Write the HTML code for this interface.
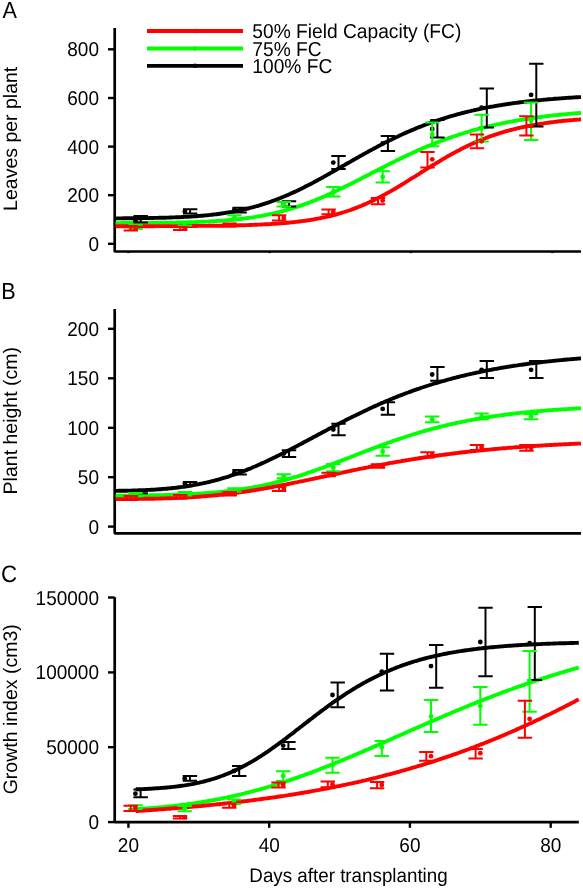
<!DOCTYPE html>
<html><head><meta charset="utf-8"><style>
html,body{margin:0;padding:0;background:#fff;}
svg{display:block;will-change:transform;}
text{font-family:"Liberation Sans",sans-serif;fill:#000;text-rendering:geometricPrecision;}
.t{font-size:19px;}
.l{font-size:19.5px;}
.x{font-size:18.8px;}
.g{font-size:19.2px;}
.p{font-size:22.3px;}
</style></head><body>
<svg width="583" height="888" viewBox="0 0 583 888">
<path d="M114.7,28 V251.5 H581" fill="none" stroke="#000" stroke-width="2.7" stroke-linejoin="bevel"/>
<line x1="108" y1="243.8" x2="114.7" y2="243.8" stroke="#000" stroke-width="2.4"/>
<text transform="translate(99,250.80) scale(1,1.06)" text-anchor="end" class="t">0</text>
<line x1="108" y1="195.2" x2="114.7" y2="195.2" stroke="#000" stroke-width="2.4"/>
<text transform="translate(99,202.20) scale(1,1.06)" text-anchor="end" class="t">200</text>
<line x1="108" y1="146.6" x2="114.7" y2="146.6" stroke="#000" stroke-width="2.4"/>
<text transform="translate(99,153.60) scale(1,1.06)" text-anchor="end" class="t">400</text>
<line x1="108" y1="98" x2="114.7" y2="98" stroke="#000" stroke-width="2.4"/>
<text transform="translate(99,105.00) scale(1,1.06)" text-anchor="end" class="t">600</text>
<line x1="108" y1="49.3" x2="114.7" y2="49.3" stroke="#000" stroke-width="2.4"/>
<text transform="translate(99,56.30) scale(1,1.06)" text-anchor="end" class="t">800</text>
<line x1="128.4" y1="251.5" x2="128.4" y2="253.1" stroke="#000" stroke-width="2.4"/>
<line x1="269.7" y1="251.5" x2="269.7" y2="253.1" stroke="#000" stroke-width="2.4"/>
<line x1="411.0" y1="251.5" x2="411.0" y2="253.1" stroke="#000" stroke-width="2.4"/>
<line x1="552.3" y1="251.5" x2="552.3" y2="253.1" stroke="#000" stroke-width="2.4"/>
<path d="M114.7,309 V533.3 H581" fill="none" stroke="#000" stroke-width="2.7" stroke-linejoin="bevel"/>
<line x1="108" y1="526.6" x2="114.7" y2="526.6" stroke="#000" stroke-width="2.4"/>
<text transform="translate(99,533.60) scale(1,1.06)" text-anchor="end" class="t">0</text>
<line x1="108" y1="477.2" x2="114.7" y2="477.2" stroke="#000" stroke-width="2.4"/>
<text transform="translate(99,484.20) scale(1,1.06)" text-anchor="end" class="t">50</text>
<line x1="108" y1="427.8" x2="114.7" y2="427.8" stroke="#000" stroke-width="2.4"/>
<text transform="translate(99,434.80) scale(1,1.06)" text-anchor="end" class="t">100</text>
<line x1="108" y1="378.3" x2="114.7" y2="378.3" stroke="#000" stroke-width="2.4"/>
<text transform="translate(99,385.30) scale(1,1.06)" text-anchor="end" class="t">150</text>
<line x1="108" y1="328.8" x2="114.7" y2="328.8" stroke="#000" stroke-width="2.4"/>
<text transform="translate(99,335.80) scale(1,1.06)" text-anchor="end" class="t">200</text>
<path d="M114.7,597.2 V822.1 H578.8" fill="none" stroke="#000" stroke-width="2.7" stroke-linejoin="bevel"/>
<line x1="108" y1="822.1" x2="114.7" y2="822.1" stroke="#000" stroke-width="2.4"/>
<text transform="translate(99,829.10) scale(1,1.06)" text-anchor="end" class="t">0</text>
<line x1="108" y1="747.2" x2="114.7" y2="747.2" stroke="#000" stroke-width="2.4"/>
<text transform="translate(99,754.20) scale(1,1.06)" text-anchor="end" class="t">50000</text>
<line x1="108" y1="672.4" x2="114.7" y2="672.4" stroke="#000" stroke-width="2.4"/>
<text transform="translate(99,679.40) scale(1,1.06)" text-anchor="end" class="t">100000</text>
<line x1="108" y1="597.5" x2="114.7" y2="597.5" stroke="#000" stroke-width="2.4"/>
<text transform="translate(99,604.50) scale(1,1.06)" text-anchor="end" class="t">150000</text>
<line x1="128.4" y1="822.1" x2="128.4" y2="827.8000000000001" stroke="#000" stroke-width="2.4"/>
<line x1="269.2" y1="822.1" x2="269.2" y2="827.8000000000001" stroke="#000" stroke-width="2.4"/>
<line x1="409.9" y1="822.1" x2="409.9" y2="827.8000000000001" stroke="#000" stroke-width="2.4"/>
<line x1="550.7" y1="822.1" x2="550.7" y2="827.8000000000001" stroke="#000" stroke-width="2.4"/>
<path d="M115.5,218.4 L117.1,218.4 L118.6,218.4 L120.2,218.4 L121.7,218.4 L123.3,218.3 L124.8,218.3 L126.4,218.3 L128.0,218.3 L129.5,218.3 L131.1,218.3 L132.6,218.3 L134.2,218.3 L135.7,218.2 L137.3,218.2 L138.9,218.2 L140.4,218.2 L142.0,218.2 L143.5,218.1 L145.1,218.1 L146.6,218.1 L148.2,218.1 L149.8,218.0 L151.3,218.0 L152.9,218.0 L154.4,217.9 L156.0,217.9 L157.5,217.9 L159.1,217.8 L160.6,217.8 L162.2,217.8 L163.8,217.7 L165.3,217.7 L166.9,217.6 L168.4,217.6 L170.0,217.5 L171.5,217.5 L173.1,217.4 L174.7,217.4 L176.2,217.3 L177.8,217.2 L179.3,217.2 L180.9,217.1 L182.4,217.0 L184.0,216.9 L185.6,216.9 L187.1,216.8 L188.7,216.7 L190.2,216.6 L191.8,216.5 L193.3,216.4 L194.9,216.3 L196.5,216.2 L198.0,216.0 L199.6,215.9 L201.1,215.8 L202.7,215.7 L204.2,215.5 L205.8,215.4 L207.4,215.2 L208.9,215.1 L210.5,214.9 L212.0,214.7 L213.6,214.5 L215.1,214.4 L216.7,214.2 L218.3,214.0 L219.8,213.8 L221.4,213.5 L222.9,213.3 L224.5,213.1 L226.0,212.8 L227.6,212.6 L229.2,212.3 L230.7,212.1 L232.3,211.8 L233.8,211.5 L235.4,211.2 L236.9,210.9 L238.5,210.6 L240.0,210.3 L241.6,210.0 L243.2,209.6 L244.7,209.3 L246.3,208.9 L247.8,208.5 L249.4,208.1 L250.9,207.7 L252.5,207.3 L254.1,206.9 L255.6,206.5 L257.2,206.0 L258.7,205.6 L260.3,205.1 L261.8,204.6 L263.4,204.1 L265.0,203.6 L266.5,203.1 L268.1,202.6 L269.6,202.1 L271.2,201.5 L272.7,200.9 L274.3,200.4 L275.9,199.8 L277.4,199.2 L279.0,198.6 L280.5,198.0 L282.1,197.3 L283.6,196.7 L285.2,196.0 L286.8,195.4 L288.3,194.7 L289.9,194.0 L291.4,193.3 L293.0,192.6 L294.5,191.9 L296.1,191.2 L297.7,190.4 L299.2,189.7 L300.8,188.9 L302.3,188.2 L303.9,187.4 L305.4,186.6 L307.0,185.8 L308.6,185.0 L310.1,184.2 L311.7,183.4 L313.2,182.6 L314.8,181.7 L316.3,180.9 L317.9,180.1 L319.4,179.2 L321.0,178.4 L322.6,177.5 L324.1,176.6 L325.7,175.8 L327.2,174.9 L328.8,174.0 L330.3,173.1 L331.9,172.3 L333.5,171.4 L335.0,170.5 L336.6,169.6 L338.1,168.7 L339.7,167.8 L341.2,166.9 L342.8,166.0 L344.4,165.1 L345.9,164.2 L347.5,163.3 L349.0,162.5 L350.6,161.6 L352.1,160.7 L353.7,159.8 L355.3,158.9 L356.8,158.0 L358.4,157.1 L359.9,156.2 L361.5,155.4 L363.0,154.5 L364.6,153.6 L366.2,152.8 L367.7,151.9 L369.3,151.1 L370.8,150.2 L372.4,149.4 L373.9,148.5 L375.5,147.7 L377.1,146.9 L378.6,146.0 L380.2,145.2 L381.7,144.4 L383.3,143.6 L384.8,142.8 L386.4,142.0 L387.9,141.2 L389.5,140.5 L391.1,139.7 L392.6,138.9 L394.2,138.2 L395.7,137.4 L397.3,136.7 L398.8,136.0 L400.4,135.2 L402.0,134.5 L403.5,133.8 L405.1,133.1 L406.6,132.4 L408.2,131.7 L409.7,131.1 L411.3,130.4 L412.9,129.7 L414.4,129.1 L416.0,128.4 L417.5,127.8 L419.1,127.2 L420.6,126.6 L422.2,126.0 L423.8,125.4 L425.3,124.8 L426.9,124.2 L428.4,123.6 L430.0,123.0 L431.5,122.5 L433.1,121.9 L434.7,121.4 L436.2,120.9 L437.8,120.3 L439.3,119.8 L440.9,119.3 L442.4,118.8 L444.0,118.3 L445.6,117.8 L447.1,117.3 L448.7,116.9 L450.2,116.4 L451.8,116.0 L453.3,115.5 L454.9,115.1 L456.5,114.6 L458.0,114.2 L459.6,113.8 L461.1,113.4 L462.7,113.0 L464.2,112.6 L465.8,112.2 L467.3,111.8 L468.9,111.4 L470.5,111.1 L472.0,110.7 L473.6,110.4 L475.1,110.0 L476.7,109.7 L478.2,109.3 L479.8,109.0 L481.4,108.7 L482.9,108.4 L484.5,108.0 L486.0,107.7 L487.6,107.4 L489.1,107.1 L490.7,106.8 L492.3,106.6 L493.8,106.3 L495.4,106.0 L496.9,105.7 L498.5,105.5 L500.0,105.2 L501.6,105.0 L503.2,104.7 L504.7,104.5 L506.3,104.2 L507.8,104.0 L509.4,103.8 L510.9,103.6 L512.5,103.3 L514.1,103.1 L515.6,102.9 L517.2,102.7 L518.7,102.5 L520.3,102.3 L521.8,102.1 L523.4,101.9 L525.0,101.7 L526.5,101.5 L528.1,101.4 L529.6,101.2 L531.2,101.0 L532.7,100.8 L534.3,100.7 L535.9,100.5 L537.4,100.4 L539.0,100.2 L540.5,100.1 L542.1,99.9 L543.6,99.8 L545.2,99.6 L546.7,99.5 L548.3,99.3 L549.9,99.2 L551.4,99.1 L553.0,99.0 L554.5,98.8 L556.1,98.7 L557.6,98.6 L559.2,98.5 L560.8,98.4 L562.3,98.2 L563.9,98.1 L565.4,98.0 L567.0,97.9 L568.5,97.8 L570.1,97.7 L571.7,97.6 L573.2,97.5 L574.8,97.4 L576.3,97.3 L577.9,97.2 L579.4,97.1 L581.0,97.1" fill="none" stroke="#000000" stroke-width="3.9"/>
<path d="M115.5,223.1 L117.1,223.1 L118.6,223.1 L120.2,223.1 L121.7,223.0 L123.3,223.0 L124.8,223.0 L126.4,223.0 L128.0,223.0 L129.5,223.0 L131.1,223.0 L132.6,223.0 L134.2,223.0 L135.7,223.0 L137.3,223.0 L138.9,223.0 L140.4,223.0 L142.0,223.0 L143.5,223.0 L145.1,222.9 L146.6,222.9 L148.2,222.9 L149.8,222.9 L151.3,222.9 L152.9,222.9 L154.4,222.9 L156.0,222.9 L157.5,222.8 L159.1,222.8 L160.6,222.8 L162.2,222.8 L163.8,222.8 L165.3,222.7 L166.9,222.7 L168.4,222.7 L170.0,222.7 L171.5,222.6 L173.1,222.6 L174.7,222.6 L176.2,222.6 L177.8,222.5 L179.3,222.5 L180.9,222.5 L182.4,222.4 L184.0,222.4 L185.6,222.4 L187.1,222.3 L188.7,222.3 L190.2,222.2 L191.8,222.2 L193.3,222.1 L194.9,222.1 L196.5,222.0 L198.0,222.0 L199.6,221.9 L201.1,221.8 L202.7,221.8 L204.2,221.7 L205.8,221.6 L207.4,221.6 L208.9,221.5 L210.5,221.4 L212.0,221.3 L213.6,221.2 L215.1,221.1 L216.7,221.0 L218.3,220.9 L219.8,220.8 L221.4,220.7 L222.9,220.6 L224.5,220.5 L226.0,220.4 L227.6,220.2 L229.2,220.1 L230.7,220.0 L232.3,219.8 L233.8,219.7 L235.4,219.5 L236.9,219.4 L238.5,219.2 L240.0,219.0 L241.6,218.8 L243.2,218.6 L244.7,218.4 L246.3,218.2 L247.8,218.0 L249.4,217.8 L250.9,217.6 L252.5,217.4 L254.1,217.1 L255.6,216.9 L257.2,216.6 L258.7,216.3 L260.3,216.1 L261.8,215.8 L263.4,215.5 L265.0,215.2 L266.5,214.9 L268.1,214.6 L269.6,214.2 L271.2,213.9 L272.7,213.6 L274.3,213.2 L275.9,212.8 L277.4,212.5 L279.0,212.1 L280.5,211.7 L282.1,211.3 L283.6,210.9 L285.2,210.4 L286.8,210.0 L288.3,209.5 L289.9,209.1 L291.4,208.6 L293.0,208.1 L294.5,207.7 L296.1,207.2 L297.7,206.6 L299.2,206.1 L300.8,205.6 L302.3,205.1 L303.9,204.5 L305.4,203.9 L307.0,203.4 L308.6,202.8 L310.1,202.2 L311.7,201.6 L313.2,201.0 L314.8,200.4 L316.3,199.7 L317.9,199.1 L319.4,198.5 L321.0,197.8 L322.6,197.1 L324.1,196.5 L325.7,195.8 L327.2,195.1 L328.8,194.4 L330.3,193.7 L331.9,193.0 L333.5,192.3 L335.0,191.5 L336.6,190.8 L338.1,190.1 L339.7,189.3 L341.2,188.6 L342.8,187.8 L344.4,187.1 L345.9,186.3 L347.5,185.5 L349.0,184.7 L350.6,184.0 L352.1,183.2 L353.7,182.4 L355.3,181.6 L356.8,180.8 L358.4,180.0 L359.9,179.2 L361.5,178.4 L363.0,177.6 L364.6,176.8 L366.2,176.0 L367.7,175.2 L369.3,174.4 L370.8,173.6 L372.4,172.8 L373.9,172.0 L375.5,171.2 L377.1,170.4 L378.6,169.6 L380.2,168.8 L381.7,168.0 L383.3,167.2 L384.8,166.4 L386.4,165.6 L387.9,164.8 L389.5,164.0 L391.1,163.2 L392.6,162.5 L394.2,161.7 L395.7,160.9 L397.3,160.1 L398.8,159.4 L400.4,158.6 L402.0,157.9 L403.5,157.1 L405.1,156.4 L406.6,155.6 L408.2,154.9 L409.7,154.2 L411.3,153.5 L412.9,152.7 L414.4,152.0 L416.0,151.3 L417.5,150.6 L419.1,149.9 L420.6,149.3 L422.2,148.6 L423.8,147.9 L425.3,147.2 L426.9,146.6 L428.4,145.9 L430.0,145.3 L431.5,144.7 L433.1,144.0 L434.7,143.4 L436.2,142.8 L437.8,142.2 L439.3,141.6 L440.9,141.0 L442.4,140.4 L444.0,139.8 L445.6,139.3 L447.1,138.7 L448.7,138.1 L450.2,137.6 L451.8,137.0 L453.3,136.5 L454.9,136.0 L456.5,135.5 L458.0,135.0 L459.6,134.4 L461.1,134.0 L462.7,133.5 L464.2,133.0 L465.8,132.5 L467.3,132.0 L468.9,131.6 L470.5,131.1 L472.0,130.7 L473.6,130.2 L475.1,129.8 L476.7,129.4 L478.2,129.0 L479.8,128.5 L481.4,128.1 L482.9,127.7 L484.5,127.3 L486.0,127.0 L487.6,126.6 L489.1,126.2 L490.7,125.8 L492.3,125.5 L493.8,125.1 L495.4,124.8 L496.9,124.4 L498.5,124.1 L500.0,123.8 L501.6,123.4 L503.2,123.1 L504.7,122.8 L506.3,122.5 L507.8,122.2 L509.4,121.9 L510.9,121.6 L512.5,121.3 L514.1,121.0 L515.6,120.7 L517.2,120.5 L518.7,120.2 L520.3,119.9 L521.8,119.7 L523.4,119.4 L525.0,119.2 L526.5,119.0 L528.1,118.7 L529.6,118.5 L531.2,118.3 L532.7,118.0 L534.3,117.8 L535.9,117.6 L537.4,117.4 L539.0,117.2 L540.5,117.0 L542.1,116.8 L543.6,116.6 L545.2,116.4 L546.7,116.2 L548.3,116.0 L549.9,115.8 L551.4,115.6 L553.0,115.5 L554.5,115.3 L556.1,115.1 L557.6,115.0 L559.2,114.8 L560.8,114.7 L562.3,114.5 L563.9,114.4 L565.4,114.2 L567.0,114.1 L568.5,113.9 L570.1,113.8 L571.7,113.6 L573.2,113.5 L574.8,113.4 L576.3,113.2 L577.9,113.1 L579.4,113.0 L581.0,112.9" fill="none" stroke="#00ff00" stroke-width="3.9"/>
<path d="M115.5,226.2 L117.1,226.2 L118.6,226.2 L120.2,226.2 L121.7,226.2 L123.3,226.2 L124.8,226.2 L126.4,226.2 L128.0,226.2 L129.5,226.2 L131.1,226.2 L132.6,226.2 L134.2,226.2 L135.7,226.2 L137.3,226.2 L138.9,226.2 L140.4,226.2 L142.0,226.2 L143.5,226.2 L145.1,226.2 L146.6,226.2 L148.2,226.2 L149.8,226.2 L151.3,226.2 L152.9,226.2 L154.4,226.2 L156.0,226.1 L157.5,226.1 L159.1,226.1 L160.6,226.1 L162.2,226.1 L163.8,226.1 L165.3,226.1 L166.9,226.1 L168.4,226.1 L170.0,226.1 L171.5,226.1 L173.1,226.1 L174.7,226.1 L176.2,226.1 L177.8,226.1 L179.3,226.1 L180.9,226.1 L182.4,226.1 L184.0,226.0 L185.6,226.0 L187.1,226.0 L188.7,226.0 L190.2,226.0 L191.8,226.0 L193.3,226.0 L194.9,226.0 L196.5,226.0 L198.0,225.9 L199.6,225.9 L201.1,225.9 L202.7,225.9 L204.2,225.9 L205.8,225.9 L207.4,225.9 L208.9,225.8 L210.5,225.8 L212.0,225.8 L213.6,225.8 L215.1,225.8 L216.7,225.7 L218.3,225.7 L219.8,225.7 L221.4,225.7 L222.9,225.7 L224.5,225.6 L226.0,225.6 L227.6,225.6 L229.2,225.5 L230.7,225.5 L232.3,225.5 L233.8,225.4 L235.4,225.4 L236.9,225.4 L238.5,225.3 L240.0,225.3 L241.6,225.2 L243.2,225.2 L244.7,225.2 L246.3,225.1 L247.8,225.1 L249.4,225.0 L250.9,225.0 L252.5,224.9 L254.1,224.8 L255.6,224.8 L257.2,224.7 L258.7,224.6 L260.3,224.6 L261.8,224.5 L263.4,224.4 L265.0,224.3 L266.5,224.3 L268.1,224.2 L269.6,224.1 L271.2,224.0 L272.7,223.9 L274.3,223.8 L275.9,223.7 L277.4,223.6 L279.0,223.5 L280.5,223.4 L282.1,223.2 L283.6,223.1 L285.2,223.0 L286.8,222.8 L288.3,222.7 L289.9,222.5 L291.4,222.4 L293.0,222.2 L294.5,222.1 L296.1,221.9 L297.7,221.7 L299.2,221.5 L300.8,221.3 L302.3,221.1 L303.9,220.9 L305.4,220.7 L307.0,220.5 L308.6,220.2 L310.1,220.0 L311.7,219.7 L313.2,219.5 L314.8,219.2 L316.3,218.9 L317.9,218.6 L319.4,218.3 L321.0,218.0 L322.6,217.7 L324.1,217.4 L325.7,217.1 L327.2,216.7 L328.8,216.3 L330.3,216.0 L331.9,215.6 L333.5,215.2 L335.0,214.8 L336.6,214.3 L338.1,213.9 L339.7,213.5 L341.2,213.0 L342.8,212.5 L344.4,212.0 L345.9,211.5 L347.5,211.0 L349.0,210.5 L350.6,210.0 L352.1,209.4 L353.7,208.8 L355.3,208.2 L356.8,207.6 L358.4,207.0 L359.9,206.4 L361.5,205.8 L363.0,205.1 L364.6,204.4 L366.2,203.7 L367.7,203.0 L369.3,202.3 L370.8,201.6 L372.4,200.9 L373.9,200.1 L375.5,199.3 L377.1,198.6 L378.6,197.8 L380.2,197.0 L381.7,196.1 L383.3,195.3 L384.8,194.5 L386.4,193.6 L387.9,192.7 L389.5,191.9 L391.1,191.0 L392.6,190.1 L394.2,189.2 L395.7,188.3 L397.3,187.3 L398.8,186.4 L400.4,185.5 L402.0,184.5 L403.5,183.6 L405.1,182.6 L406.6,181.6 L408.2,180.7 L409.7,179.7 L411.3,178.7 L412.9,177.7 L414.4,176.8 L416.0,175.8 L417.5,174.8 L419.1,173.8 L420.6,172.8 L422.2,171.8 L423.8,170.9 L425.3,169.9 L426.9,168.9 L428.4,167.9 L430.0,167.0 L431.5,166.0 L433.1,165.0 L434.7,164.1 L436.2,163.1 L437.8,162.2 L439.3,161.3 L440.9,160.3 L442.4,159.4 L444.0,158.5 L445.6,157.6 L447.1,156.7 L448.7,155.8 L450.2,154.9 L451.8,154.1 L453.3,153.2 L454.9,152.4 L456.5,151.5 L458.0,150.7 L459.6,149.9 L461.1,149.1 L462.7,148.3 L464.2,147.5 L465.8,146.8 L467.3,146.0 L468.9,145.3 L470.5,144.6 L472.0,143.8 L473.6,143.1 L475.1,142.4 L476.7,141.8 L478.2,141.1 L479.8,140.5 L481.4,139.8 L482.9,139.2 L484.5,138.6 L486.0,138.0 L487.6,137.4 L489.1,136.8 L490.7,136.2 L492.3,135.7 L493.8,135.1 L495.4,134.6 L496.9,134.1 L498.5,133.6 L500.0,133.1 L501.6,132.6 L503.2,132.2 L504.7,131.7 L506.3,131.2 L507.8,130.8 L509.4,130.4 L510.9,130.0 L512.5,129.6 L514.1,129.2 L515.6,128.8 L517.2,128.4 L518.7,128.0 L520.3,127.7 L521.8,127.3 L523.4,127.0 L525.0,126.7 L526.5,126.3 L528.1,126.0 L529.6,125.7 L531.2,125.4 L532.7,125.2 L534.3,124.9 L535.9,124.6 L537.4,124.3 L539.0,124.1 L540.5,123.8 L542.1,123.6 L543.6,123.4 L545.2,123.1 L546.7,122.9 L548.3,122.7 L549.9,122.5 L551.4,122.3 L553.0,122.1 L554.5,121.9 L556.1,121.7 L557.6,121.5 L559.2,121.3 L560.8,121.2 L562.3,121.0 L563.9,120.8 L565.4,120.7 L567.0,120.5 L568.5,120.4 L570.1,120.2 L571.7,120.1 L573.2,120.0 L574.8,119.8 L576.3,119.7 L577.9,119.6 L579.4,119.5 L581.0,119.3" fill="none" stroke="#ff0000" stroke-width="3.9"/>
<path d="M133.5,216 H147.9 M140.7,216 V222.5 M133.5,222.5 H147.9" stroke="#000000" stroke-width="2" fill="none"/>
<circle cx="135.5" cy="221" r="2.4" fill="#000000"/>
<path d="M182.9,209.2 H197.3 M190.1,209.2 V213.4 M182.9,213.4 H197.3" stroke="#000000" stroke-width="2" fill="none"/>
<circle cx="184.9" cy="211.5" r="2.4" fill="#000000"/>
<path d="M232.4,207.8 H246.8 M239.6,207.8 V212.5 M232.4,212.5 H246.8" stroke="#000000" stroke-width="2" fill="none"/>
<circle cx="234.4" cy="210" r="2.4" fill="#000000"/>
<path d="M281.8,201.3 H296.2 M289.0,201.3 V206.5 M281.8,206.5 H296.2" stroke="#000000" stroke-width="2" fill="none"/>
<circle cx="283.8" cy="204" r="2.4" fill="#000000"/>
<path d="M331.3,156 H345.7 M338.5,156 V169 M331.3,169 H345.7" stroke="#000000" stroke-width="2" fill="none"/>
<circle cx="333.3" cy="162.6" r="2.4" fill="#000000"/>
<path d="M380.7,136 H395.1 M387.9,136 V151 M380.7,151 H395.1" stroke="#000000" stroke-width="2" fill="none"/>
<circle cx="382.7" cy="143.5" r="2.4" fill="#000000"/>
<path d="M430.2,120.1 H444.6 M437.4,120.1 V137.6 M430.2,137.6 H444.6" stroke="#000000" stroke-width="2" fill="none"/>
<circle cx="432.2" cy="129" r="2.4" fill="#000000"/>
<path d="M479.6,88.5 H494.0 M486.8,88.5 V127.6 M479.6,127.6 H494.0" stroke="#000000" stroke-width="2" fill="none"/>
<circle cx="481.6" cy="107.6" r="2.4" fill="#000000"/>
<path d="M529.1,63.8 H543.5 M536.3,63.8 V126.6 M529.1,126.6 H543.5" stroke="#000000" stroke-width="2" fill="none"/>
<circle cx="531.1" cy="94.9" r="2.4" fill="#000000"/>
<path d="M128.3,224.8 H142.7 M135.5,224.8 V229 M128.3,229 H142.7" stroke="#00ff00" stroke-width="2" fill="none"/>
<circle cx="135.5" cy="227" r="2.4" fill="#00ff00"/>
<path d="M177.7,222 H192.1 M184.9,222 V225.5 M177.7,225.5 H192.1" stroke="#00ff00" stroke-width="2" fill="none"/>
<circle cx="184.9" cy="223.8" r="2.4" fill="#00ff00"/>
<path d="M227.2,215.2 H241.6 M234.4,215.2 V219.5 M227.2,219.5 H241.6" stroke="#00ff00" stroke-width="2" fill="none"/>
<circle cx="234.4" cy="217.4" r="2.4" fill="#00ff00"/>
<path d="M276.6,201.9 H291.0 M283.8,201.9 V206.5 M276.6,206.5 H291.0" stroke="#00ff00" stroke-width="2" fill="none"/>
<circle cx="283.8" cy="204.2" r="2.4" fill="#00ff00"/>
<path d="M326.1,186.9 H340.5 M333.3,186.9 V196.6 M326.1,196.6 H340.5" stroke="#00ff00" stroke-width="2" fill="none"/>
<circle cx="333.3" cy="191.7" r="2.4" fill="#00ff00"/>
<path d="M375.5,171.3 H389.9 M382.7,171.3 V182.4 M375.5,182.4 H389.9" stroke="#00ff00" stroke-width="2" fill="none"/>
<circle cx="382.7" cy="177" r="2.4" fill="#00ff00"/>
<path d="M425.0,122.6 H439.4 M432.2,122.6 V146.3 M425.0,146.3 H439.4" stroke="#00ff00" stroke-width="2" fill="none"/>
<circle cx="432.2" cy="134.5" r="2.4" fill="#00ff00"/>
<path d="M474.4,114.8 H488.8 M481.6,114.8 V141.6 M474.4,141.6 H488.8" stroke="#00ff00" stroke-width="2" fill="none"/>
<circle cx="481.6" cy="128.2" r="2.4" fill="#00ff00"/>
<path d="M523.9,102.5 H538.3 M531.1,102.5 V140 M523.9,140 H538.3" stroke="#00ff00" stroke-width="2" fill="none"/>
<circle cx="531.1" cy="121" r="2.4" fill="#00ff00"/>
<path d="M123.6,226 H138.0 M130.8,226 V230.5 M123.6,230.5 H138.0" stroke="#ff0000" stroke-width="2" fill="none"/>
<circle cx="135.5" cy="228.3" r="2.4" fill="#ff0000"/>
<path d="M173.0,227 H187.4 M180.2,227 V230 M173.0,230 H187.4" stroke="#ff0000" stroke-width="2" fill="none"/>
<circle cx="184.9" cy="228.5" r="2.4" fill="#ff0000"/>
<path d="M222.5,223.5 H236.9 M229.7,223.5 V226.5 M222.5,226.5 H236.9" stroke="#ff0000" stroke-width="2" fill="none"/>
<circle cx="234.4" cy="225" r="2.4" fill="#ff0000"/>
<path d="M271.9,215.3 H286.3 M279.1,215.3 V220.5 M271.9,220.5 H286.3" stroke="#ff0000" stroke-width="2" fill="none"/>
<circle cx="283.8" cy="218" r="2.4" fill="#ff0000"/>
<path d="M321.4,209.5 H335.8 M328.6,209.5 V214.3 M321.4,214.3 H335.8" stroke="#ff0000" stroke-width="2" fill="none"/>
<circle cx="333.3" cy="212" r="2.4" fill="#ff0000"/>
<path d="M370.8,198.1 H385.2 M378.0,198.1 V204.3 M370.8,204.3 H385.2" stroke="#ff0000" stroke-width="2" fill="none"/>
<circle cx="382.7" cy="200.6" r="2.4" fill="#ff0000"/>
<path d="M420.3,152 H434.7 M427.5,152 V167.5 M420.3,167.5 H434.7" stroke="#ff0000" stroke-width="2" fill="none"/>
<circle cx="432.2" cy="159.3" r="2.4" fill="#ff0000"/>
<path d="M469.8,134.4 H484.1 M476.9,134.4 V148.2 M469.8,148.2 H484.1" stroke="#ff0000" stroke-width="2" fill="none"/>
<circle cx="481.6" cy="141.3" r="2.4" fill="#ff0000"/>
<path d="M519.2,116.3 H533.6 M526.4,116.3 V135.4 M519.2,135.4 H533.6" stroke="#ff0000" stroke-width="2" fill="none"/>
<circle cx="531.1" cy="125.9" r="2.4" fill="#ff0000"/>
<path d="M115.5,490.9 L117.1,490.9 L118.6,490.8 L120.2,490.8 L121.7,490.8 L123.3,490.7 L124.8,490.7 L126.4,490.7 L128.0,490.6 L129.5,490.6 L131.1,490.6 L132.6,490.5 L134.2,490.5 L135.7,490.4 L137.3,490.4 L138.9,490.3 L140.4,490.3 L142.0,490.2 L143.5,490.2 L145.1,490.1 L146.6,490.0 L148.2,489.9 L149.8,489.9 L151.3,489.8 L152.9,489.7 L154.4,489.6 L156.0,489.5 L157.5,489.4 L159.1,489.3 L160.6,489.2 L162.2,489.0 L163.8,488.9 L165.3,488.8 L166.9,488.7 L168.4,488.5 L170.0,488.4 L171.5,488.2 L173.1,488.0 L174.7,487.9 L176.2,487.7 L177.8,487.5 L179.3,487.3 L180.9,487.1 L182.4,486.9 L184.0,486.7 L185.6,486.5 L187.1,486.2 L188.7,486.0 L190.2,485.7 L191.8,485.5 L193.3,485.2 L194.9,484.9 L196.5,484.6 L198.0,484.3 L199.6,484.0 L201.1,483.7 L202.7,483.4 L204.2,483.0 L205.8,482.7 L207.4,482.3 L208.9,482.0 L210.5,481.6 L212.0,481.2 L213.6,480.8 L215.1,480.4 L216.7,480.0 L218.3,479.6 L219.8,479.1 L221.4,478.7 L222.9,478.2 L224.5,477.7 L226.0,477.3 L227.6,476.8 L229.2,476.3 L230.7,475.7 L232.3,475.2 L233.8,474.7 L235.4,474.1 L236.9,473.6 L238.5,473.0 L240.0,472.4 L241.6,471.9 L243.2,471.3 L244.7,470.7 L246.3,470.1 L247.8,469.4 L249.4,468.8 L250.9,468.2 L252.5,467.5 L254.1,466.8 L255.6,466.2 L257.2,465.5 L258.7,464.8 L260.3,464.1 L261.8,463.4 L263.4,462.7 L265.0,462.0 L266.5,461.3 L268.1,460.5 L269.6,459.8 L271.2,459.1 L272.7,458.3 L274.3,457.6 L275.9,456.8 L277.4,456.0 L279.0,455.3 L280.5,454.5 L282.1,453.7 L283.6,452.9 L285.2,452.1 L286.8,451.3 L288.3,450.5 L289.9,449.7 L291.4,448.9 L293.0,448.1 L294.5,447.3 L296.1,446.5 L297.7,445.6 L299.2,444.8 L300.8,444.0 L302.3,443.2 L303.9,442.3 L305.4,441.5 L307.0,440.7 L308.6,439.8 L310.1,439.0 L311.7,438.2 L313.2,437.3 L314.8,436.5 L316.3,435.7 L317.9,434.8 L319.4,434.0 L321.0,433.2 L322.6,432.3 L324.1,431.5 L325.7,430.7 L327.2,429.9 L328.8,429.0 L330.3,428.2 L331.9,427.4 L333.5,426.6 L335.0,425.8 L336.6,424.9 L338.1,424.1 L339.7,423.3 L341.2,422.5 L342.8,421.7 L344.4,420.9 L345.9,420.1 L347.5,419.3 L349.0,418.6 L350.6,417.8 L352.1,417.0 L353.7,416.2 L355.3,415.5 L356.8,414.7 L358.4,413.9 L359.9,413.2 L361.5,412.4 L363.0,411.7 L364.6,410.9 L366.2,410.2 L367.7,409.5 L369.3,408.7 L370.8,408.0 L372.4,407.3 L373.9,406.6 L375.5,405.9 L377.1,405.2 L378.6,404.5 L380.2,403.8 L381.7,403.1 L383.3,402.5 L384.8,401.8 L386.4,401.1 L387.9,400.5 L389.5,399.8 L391.1,399.2 L392.6,398.5 L394.2,397.9 L395.7,397.3 L397.3,396.6 L398.8,396.0 L400.4,395.4 L402.0,394.8 L403.5,394.2 L405.1,393.6 L406.6,393.0 L408.2,392.5 L409.7,391.9 L411.3,391.3 L412.9,390.7 L414.4,390.2 L416.0,389.6 L417.5,389.1 L419.1,388.6 L420.6,388.0 L422.2,387.5 L423.8,387.0 L425.3,386.5 L426.9,386.0 L428.4,385.5 L430.0,385.0 L431.5,384.5 L433.1,384.0 L434.7,383.5 L436.2,383.0 L437.8,382.6 L439.3,382.1 L440.9,381.7 L442.4,381.2 L444.0,380.8 L445.6,380.3 L447.1,379.9 L448.7,379.5 L450.2,379.0 L451.8,378.6 L453.3,378.2 L454.9,377.8 L456.5,377.4 L458.0,377.0 L459.6,376.6 L461.1,376.2 L462.7,375.8 L464.2,375.5 L465.8,375.1 L467.3,374.7 L468.9,374.4 L470.5,374.0 L472.0,373.7 L473.6,373.3 L475.1,373.0 L476.7,372.6 L478.2,372.3 L479.8,372.0 L481.4,371.7 L482.9,371.3 L484.5,371.0 L486.0,370.7 L487.6,370.4 L489.1,370.1 L490.7,369.8 L492.3,369.5 L493.8,369.2 L495.4,368.9 L496.9,368.7 L498.5,368.4 L500.0,368.1 L501.6,367.8 L503.2,367.6 L504.7,367.3 L506.3,367.1 L507.8,366.8 L509.4,366.6 L510.9,366.3 L512.5,366.1 L514.1,365.8 L515.6,365.6 L517.2,365.4 L518.7,365.1 L520.3,364.9 L521.8,364.7 L523.4,364.5 L525.0,364.3 L526.5,364.1 L528.1,363.8 L529.6,363.6 L531.2,363.4 L532.7,363.2 L534.3,363.0 L535.9,362.8 L537.4,362.7 L539.0,362.5 L540.5,362.3 L542.1,362.1 L543.6,361.9 L545.2,361.7 L546.7,361.6 L548.3,361.4 L549.9,361.2 L551.4,361.1 L553.0,360.9 L554.5,360.7 L556.1,360.6 L557.6,360.4 L559.2,360.3 L560.8,360.1 L562.3,360.0 L563.9,359.8 L565.4,359.7 L567.0,359.5 L568.5,359.4 L570.1,359.3 L571.7,359.1 L573.2,359.0 L574.8,358.9 L576.3,358.7 L577.9,358.6 L579.4,358.5 L581.0,358.4" fill="none" stroke="#000000" stroke-width="3.9"/>
<path d="M115.5,495.7 L117.1,495.7 L118.6,495.7 L120.2,495.7 L121.7,495.7 L123.3,495.7 L124.8,495.7 L126.4,495.7 L128.0,495.7 L129.5,495.6 L131.1,495.6 L132.6,495.6 L134.2,495.6 L135.7,495.6 L137.3,495.6 L138.9,495.5 L140.4,495.5 L142.0,495.5 L143.5,495.5 L145.1,495.4 L146.6,495.4 L148.2,495.4 L149.8,495.4 L151.3,495.3 L152.9,495.3 L154.4,495.3 L156.0,495.3 L157.5,495.2 L159.1,495.2 L160.6,495.2 L162.2,495.1 L163.8,495.1 L165.3,495.0 L166.9,495.0 L168.4,495.0 L170.0,494.9 L171.5,494.9 L173.1,494.8 L174.7,494.8 L176.2,494.7 L177.8,494.7 L179.3,494.6 L180.9,494.5 L182.4,494.5 L184.0,494.4 L185.6,494.3 L187.1,494.3 L188.7,494.2 L190.2,494.1 L191.8,494.0 L193.3,493.9 L194.9,493.9 L196.5,493.8 L198.0,493.7 L199.6,493.6 L201.1,493.5 L202.7,493.4 L204.2,493.3 L205.8,493.2 L207.4,493.0 L208.9,492.9 L210.5,492.8 L212.0,492.7 L213.6,492.5 L215.1,492.4 L216.7,492.3 L218.3,492.1 L219.8,492.0 L221.4,491.8 L222.9,491.6 L224.5,491.5 L226.0,491.3 L227.6,491.1 L229.2,490.9 L230.7,490.8 L232.3,490.6 L233.8,490.4 L235.4,490.2 L236.9,489.9 L238.5,489.7 L240.0,489.5 L241.6,489.3 L243.2,489.0 L244.7,488.8 L246.3,488.5 L247.8,488.3 L249.4,488.0 L250.9,487.7 L252.5,487.5 L254.1,487.2 L255.6,486.9 L257.2,486.6 L258.7,486.3 L260.3,486.0 L261.8,485.7 L263.4,485.3 L265.0,485.0 L266.5,484.6 L268.1,484.3 L269.6,483.9 L271.2,483.6 L272.7,483.2 L274.3,482.8 L275.9,482.4 L277.4,482.0 L279.0,481.6 L280.5,481.2 L282.1,480.8 L283.6,480.4 L285.2,480.0 L286.8,479.5 L288.3,479.1 L289.9,478.6 L291.4,478.2 L293.0,477.7 L294.5,477.2 L296.1,476.8 L297.7,476.3 L299.2,475.8 L300.8,475.3 L302.3,474.8 L303.9,474.3 L305.4,473.8 L307.0,473.2 L308.6,472.7 L310.1,472.2 L311.7,471.7 L313.2,471.1 L314.8,470.6 L316.3,470.0 L317.9,469.5 L319.4,468.9 L321.0,468.3 L322.6,467.8 L324.1,467.2 L325.7,466.6 L327.2,466.0 L328.8,465.5 L330.3,464.9 L331.9,464.3 L333.5,463.7 L335.0,463.1 L336.6,462.5 L338.1,461.9 L339.7,461.3 L341.2,460.7 L342.8,460.1 L344.4,459.5 L345.9,458.9 L347.5,458.3 L349.0,457.7 L350.6,457.1 L352.1,456.5 L353.7,455.9 L355.3,455.2 L356.8,454.6 L358.4,454.0 L359.9,453.4 L361.5,452.8 L363.0,452.2 L364.6,451.6 L366.2,451.0 L367.7,450.4 L369.3,449.8 L370.8,449.2 L372.4,448.7 L373.9,448.1 L375.5,447.5 L377.1,446.9 L378.6,446.3 L380.2,445.7 L381.7,445.2 L383.3,444.6 L384.8,444.0 L386.4,443.5 L387.9,442.9 L389.5,442.3 L391.1,441.8 L392.6,441.2 L394.2,440.7 L395.7,440.2 L397.3,439.6 L398.8,439.1 L400.4,438.6 L402.0,438.0 L403.5,437.5 L405.1,437.0 L406.6,436.5 L408.2,436.0 L409.7,435.5 L411.3,435.0 L412.9,434.5 L414.4,434.0 L416.0,433.6 L417.5,433.1 L419.1,432.6 L420.6,432.2 L422.2,431.7 L423.8,431.2 L425.3,430.8 L426.9,430.4 L428.4,429.9 L430.0,429.5 L431.5,429.1 L433.1,428.6 L434.7,428.2 L436.2,427.8 L437.8,427.4 L439.3,427.0 L440.9,426.6 L442.4,426.2 L444.0,425.9 L445.6,425.5 L447.1,425.1 L448.7,424.7 L450.2,424.4 L451.8,424.0 L453.3,423.7 L454.9,423.3 L456.5,423.0 L458.0,422.7 L459.6,422.3 L461.1,422.0 L462.7,421.7 L464.2,421.4 L465.8,421.1 L467.3,420.7 L468.9,420.4 L470.5,420.2 L472.0,419.9 L473.6,419.6 L475.1,419.3 L476.7,419.0 L478.2,418.7 L479.8,418.5 L481.4,418.2 L482.9,417.9 L484.5,417.7 L486.0,417.4 L487.6,417.2 L489.1,417.0 L490.7,416.7 L492.3,416.5 L493.8,416.3 L495.4,416.0 L496.9,415.8 L498.5,415.6 L500.0,415.4 L501.6,415.2 L503.2,415.0 L504.7,414.7 L506.3,414.5 L507.8,414.4 L509.4,414.2 L510.9,414.0 L512.5,413.8 L514.1,413.6 L515.6,413.4 L517.2,413.2 L518.7,413.1 L520.3,412.9 L521.8,412.7 L523.4,412.6 L525.0,412.4 L526.5,412.3 L528.1,412.1 L529.6,412.0 L531.2,411.8 L532.7,411.7 L534.3,411.5 L535.9,411.4 L537.4,411.2 L539.0,411.1 L540.5,411.0 L542.1,410.8 L543.6,410.7 L545.2,410.6 L546.7,410.5 L548.3,410.3 L549.9,410.2 L551.4,410.1 L553.0,410.0 L554.5,409.9 L556.1,409.8 L557.6,409.7 L559.2,409.6 L560.8,409.5 L562.3,409.4 L563.9,409.3 L565.4,409.2 L567.0,409.1 L568.5,409.0 L570.1,408.9 L571.7,408.8 L573.2,408.7 L574.8,408.6 L576.3,408.5 L577.9,408.5 L579.4,408.4 L581.0,408.3" fill="none" stroke="#00ff00" stroke-width="3.9"/>
<path d="M115.5,499.1 L117.1,499.1 L118.6,499.1 L120.2,499.1 L121.7,499.1 L123.3,499.1 L124.8,499.1 L126.4,499.0 L128.0,499.0 L129.5,499.0 L131.1,499.0 L132.6,499.0 L134.2,499.0 L135.7,499.0 L137.3,498.9 L138.9,498.9 L140.4,498.9 L142.0,498.9 L143.5,498.9 L145.1,498.8 L146.6,498.8 L148.2,498.8 L149.8,498.8 L151.3,498.7 L152.9,498.7 L154.4,498.7 L156.0,498.6 L157.5,498.6 L159.1,498.6 L160.6,498.5 L162.2,498.5 L163.8,498.4 L165.3,498.4 L166.9,498.3 L168.4,498.3 L170.0,498.2 L171.5,498.2 L173.1,498.1 L174.7,498.1 L176.2,498.0 L177.8,497.9 L179.3,497.8 L180.9,497.8 L182.4,497.7 L184.0,497.6 L185.6,497.5 L187.1,497.5 L188.7,497.4 L190.2,497.3 L191.8,497.2 L193.3,497.1 L194.9,497.0 L196.5,496.9 L198.0,496.8 L199.6,496.7 L201.1,496.5 L202.7,496.4 L204.2,496.3 L205.8,496.2 L207.4,496.0 L208.9,495.9 L210.5,495.8 L212.0,495.6 L213.6,495.5 L215.1,495.3 L216.7,495.2 L218.3,495.0 L219.8,494.8 L221.4,494.7 L222.9,494.5 L224.5,494.3 L226.0,494.1 L227.6,494.0 L229.2,493.8 L230.7,493.6 L232.3,493.4 L233.8,493.2 L235.4,493.0 L236.9,492.8 L238.5,492.6 L240.0,492.3 L241.6,492.1 L243.2,491.9 L244.7,491.7 L246.3,491.4 L247.8,491.2 L249.4,491.0 L250.9,490.7 L252.5,490.5 L254.1,490.2 L255.6,490.0 L257.2,489.7 L258.7,489.5 L260.3,489.2 L261.8,488.9 L263.4,488.7 L265.0,488.4 L266.5,488.1 L268.1,487.8 L269.6,487.6 L271.2,487.3 L272.7,487.0 L274.3,486.7 L275.9,486.4 L277.4,486.1 L279.0,485.8 L280.5,485.5 L282.1,485.2 L283.6,484.9 L285.2,484.6 L286.8,484.3 L288.3,484.0 L289.9,483.7 L291.4,483.3 L293.0,483.0 L294.5,482.7 L296.1,482.4 L297.7,482.1 L299.2,481.7 L300.8,481.4 L302.3,481.1 L303.9,480.8 L305.4,480.4 L307.0,480.1 L308.6,479.8 L310.1,479.4 L311.7,479.1 L313.2,478.8 L314.8,478.5 L316.3,478.1 L317.9,477.8 L319.4,477.5 L321.0,477.1 L322.6,476.8 L324.1,476.5 L325.7,476.1 L327.2,475.8 L328.8,475.4 L330.3,475.1 L331.9,474.8 L333.5,474.5 L335.0,474.1 L336.6,473.8 L338.1,473.5 L339.7,473.1 L341.2,472.8 L342.8,472.5 L344.4,472.1 L345.9,471.8 L347.5,471.5 L349.0,471.2 L350.6,470.8 L352.1,470.5 L353.7,470.2 L355.3,469.9 L356.8,469.6 L358.4,469.2 L359.9,468.9 L361.5,468.6 L363.0,468.3 L364.6,468.0 L366.2,467.7 L367.7,467.4 L369.3,467.0 L370.8,466.7 L372.4,466.4 L373.9,466.1 L375.5,465.8 L377.1,465.5 L378.6,465.2 L380.2,464.9 L381.7,464.7 L383.3,464.4 L384.8,464.1 L386.4,463.8 L387.9,463.5 L389.5,463.2 L391.1,462.9 L392.6,462.7 L394.2,462.4 L395.7,462.1 L397.3,461.8 L398.8,461.6 L400.4,461.3 L402.0,461.0 L403.5,460.8 L405.1,460.5 L406.6,460.2 L408.2,460.0 L409.7,459.7 L411.3,459.5 L412.9,459.2 L414.4,459.0 L416.0,458.7 L417.5,458.5 L419.1,458.2 L420.6,458.0 L422.2,457.8 L423.8,457.5 L425.3,457.3 L426.9,457.1 L428.4,456.8 L430.0,456.6 L431.5,456.4 L433.1,456.2 L434.7,455.9 L436.2,455.7 L437.8,455.5 L439.3,455.3 L440.9,455.1 L442.4,454.9 L444.0,454.7 L445.6,454.5 L447.1,454.3 L448.7,454.1 L450.2,453.9 L451.8,453.7 L453.3,453.5 L454.9,453.3 L456.5,453.1 L458.0,452.9 L459.6,452.7 L461.1,452.5 L462.7,452.3 L464.2,452.2 L465.8,452.0 L467.3,451.8 L468.9,451.6 L470.5,451.5 L472.0,451.3 L473.6,451.1 L475.1,451.0 L476.7,450.8 L478.2,450.6 L479.8,450.5 L481.4,450.3 L482.9,450.2 L484.5,450.0 L486.0,449.9 L487.6,449.7 L489.1,449.6 L490.7,449.4 L492.3,449.3 L493.8,449.1 L495.4,449.0 L496.9,448.9 L498.5,448.7 L500.0,448.6 L501.6,448.4 L503.2,448.3 L504.7,448.2 L506.3,448.1 L507.8,447.9 L509.4,447.8 L510.9,447.7 L512.5,447.6 L514.1,447.4 L515.6,447.3 L517.2,447.2 L518.7,447.1 L520.3,447.0 L521.8,446.8 L523.4,446.7 L525.0,446.6 L526.5,446.5 L528.1,446.4 L529.6,446.3 L531.2,446.2 L532.7,446.1 L534.3,446.0 L535.9,445.9 L537.4,445.8 L539.0,445.7 L540.5,445.6 L542.1,445.5 L543.6,445.4 L545.2,445.3 L546.7,445.2 L548.3,445.1 L549.9,445.0 L551.4,445.0 L553.0,444.9 L554.5,444.8 L556.1,444.7 L557.6,444.6 L559.2,444.5 L560.8,444.5 L562.3,444.4 L563.9,444.3 L565.4,444.2 L567.0,444.1 L568.5,444.1 L570.1,444.0 L571.7,443.9 L573.2,443.9 L574.8,443.8 L576.3,443.7 L577.9,443.6 L579.4,443.6 L581.0,443.5" fill="none" stroke="#ff0000" stroke-width="3.9"/>
<path d="M133.5,490 H147.9 M140.7,490 V493.2 M133.5,493.2 H147.9" stroke="#000000" stroke-width="2" fill="none"/>
<circle cx="135.5" cy="491.6" r="2.4" fill="#000000"/>
<path d="M182.9,481.9 H197.3 M190.1,481.9 V485 M182.9,485 H197.3" stroke="#000000" stroke-width="2" fill="none"/>
<circle cx="184.9" cy="483.5" r="2.4" fill="#000000"/>
<path d="M232.4,470.1 H246.8 M239.6,470.1 V474.6 M232.4,474.6 H246.8" stroke="#000000" stroke-width="2" fill="none"/>
<circle cx="234.4" cy="472.4" r="2.4" fill="#000000"/>
<path d="M281.8,450.3 H296.2 M289.0,450.3 V457 M281.8,457 H296.2" stroke="#000000" stroke-width="2" fill="none"/>
<circle cx="283.8" cy="453.6" r="2.4" fill="#000000"/>
<path d="M331.3,423.8 H345.7 M338.5,423.8 V435.3 M331.3,435.3 H345.7" stroke="#000000" stroke-width="2" fill="none"/>
<circle cx="333.3" cy="429.5" r="2.4" fill="#000000"/>
<path d="M380.7,402.3 H395.1 M387.9,402.3 V414.7 M380.7,414.7 H395.1" stroke="#000000" stroke-width="2" fill="none"/>
<circle cx="382.7" cy="408.9" r="2.4" fill="#000000"/>
<path d="M430.2,366.9 H444.6 M437.4,366.9 V380.7 M430.2,380.7 H444.6" stroke="#000000" stroke-width="2" fill="none"/>
<circle cx="432.2" cy="374.5" r="2.4" fill="#000000"/>
<path d="M479.6,361 H494.0 M486.8,361 V378.1 M479.6,378.1 H494.0" stroke="#000000" stroke-width="2" fill="none"/>
<circle cx="481.6" cy="369.8" r="2.4" fill="#000000"/>
<path d="M529.1,361 H543.5 M536.3,361 V378.1 M529.1,378.1 H543.5" stroke="#000000" stroke-width="2" fill="none"/>
<circle cx="531.1" cy="369.8" r="2.4" fill="#000000"/>
<path d="M128.3,493 H142.7 M135.5,493 V496.5 M128.3,496.5 H142.7" stroke="#00ff00" stroke-width="2" fill="none"/>
<circle cx="135.5" cy="494.8" r="2.4" fill="#00ff00"/>
<path d="M177.7,492 H192.1 M184.9,492 V495.5 M177.7,495.5 H192.1" stroke="#00ff00" stroke-width="2" fill="none"/>
<circle cx="184.9" cy="493.7" r="2.4" fill="#00ff00"/>
<path d="M227.2,488.3 H241.6 M234.4,488.3 V491.5 M227.2,491.5 H241.6" stroke="#00ff00" stroke-width="2" fill="none"/>
<circle cx="234.4" cy="490" r="2.4" fill="#00ff00"/>
<path d="M276.6,474.2 H291.0 M283.8,474.2 V478.3 M276.6,478.3 H291.0" stroke="#00ff00" stroke-width="2" fill="none"/>
<circle cx="283.8" cy="476.2" r="2.4" fill="#00ff00"/>
<path d="M326.1,464 H340.5 M333.3,464 V471.2 M326.1,471.2 H340.5" stroke="#00ff00" stroke-width="2" fill="none"/>
<circle cx="333.3" cy="467.6" r="2.4" fill="#00ff00"/>
<path d="M375.5,447.2 H389.9 M382.7,447.2 V455.7 M375.5,455.7 H389.9" stroke="#00ff00" stroke-width="2" fill="none"/>
<circle cx="382.7" cy="451.5" r="2.4" fill="#00ff00"/>
<path d="M425.0,416.6 H439.4 M432.2,416.6 V422.3 M425.0,422.3 H439.4" stroke="#00ff00" stroke-width="2" fill="none"/>
<circle cx="432.2" cy="419.5" r="2.4" fill="#00ff00"/>
<path d="M474.4,413.5 H488.8 M481.6,413.5 V419.3 M474.4,419.3 H488.8" stroke="#00ff00" stroke-width="2" fill="none"/>
<circle cx="481.6" cy="416.4" r="2.4" fill="#00ff00"/>
<path d="M523.9,414.1 H538.3 M531.1,414.1 V419.3 M523.9,419.3 H538.3" stroke="#00ff00" stroke-width="2" fill="none"/>
<circle cx="531.1" cy="416.7" r="2.4" fill="#00ff00"/>
<path d="M123.6,496 H138.0 M130.8,496 V500 M123.6,500 H138.0" stroke="#ff0000" stroke-width="2" fill="none"/>
<circle cx="135.5" cy="498" r="2.4" fill="#ff0000"/>
<path d="M173.0,495 H187.4 M180.2,495 V498.5 M173.0,498.5 H187.4" stroke="#ff0000" stroke-width="2" fill="none"/>
<circle cx="184.9" cy="496.8" r="2.4" fill="#ff0000"/>
<path d="M222.5,492 H236.9 M229.7,492 V495.5 M222.5,495.5 H236.9" stroke="#ff0000" stroke-width="2" fill="none"/>
<circle cx="234.4" cy="493.8" r="2.4" fill="#ff0000"/>
<path d="M271.9,487 H286.3 M279.1,487 V491 M271.9,491 H286.3" stroke="#ff0000" stroke-width="2" fill="none"/>
<circle cx="283.8" cy="489" r="2.4" fill="#ff0000"/>
<path d="M321.4,472.8 H335.8 M328.6,472.8 V476.3 M321.4,476.3 H335.8" stroke="#ff0000" stroke-width="2" fill="none"/>
<circle cx="333.3" cy="474.5" r="2.4" fill="#ff0000"/>
<path d="M370.8,464.3 H385.2 M378.0,464.3 V467.8 M370.8,467.8 H385.2" stroke="#ff0000" stroke-width="2" fill="none"/>
<circle cx="382.7" cy="466" r="2.4" fill="#ff0000"/>
<path d="M420.3,452.3 H434.7 M427.5,452.3 V457.5 M420.3,457.5 H434.7" stroke="#ff0000" stroke-width="2" fill="none"/>
<circle cx="432.2" cy="455" r="2.4" fill="#ff0000"/>
<path d="M469.8,445 H484.1 M476.9,445 V450 M469.8,450 H484.1" stroke="#ff0000" stroke-width="2" fill="none"/>
<circle cx="481.6" cy="447.5" r="2.4" fill="#ff0000"/>
<path d="M519.2,445 H533.6 M526.4,445 V450.7 M519.2,450.7 H533.6" stroke="#ff0000" stroke-width="2" fill="none"/>
<circle cx="531.1" cy="447.9" r="2.4" fill="#ff0000"/>
<path d="M135.7,789.3 L137.2,789.3 L138.7,789.2 L140.1,789.2 L141.6,789.1 L143.1,789.1 L144.6,789.0 L146.1,788.9 L147.6,788.9 L149.0,788.8 L150.5,788.7 L152.0,788.6 L153.5,788.5 L155.0,788.4 L156.4,788.3 L157.9,788.2 L159.4,788.1 L160.9,788.0 L162.4,787.9 L163.9,787.8 L165.3,787.7 L166.8,787.5 L168.3,787.4 L169.8,787.2 L171.3,787.1 L172.7,786.9 L174.2,786.8 L175.7,786.6 L177.2,786.4 L178.7,786.2 L180.2,786.0 L181.6,785.8 L183.1,785.6 L184.6,785.4 L186.1,785.1 L187.6,784.9 L189.0,784.6 L190.5,784.4 L192.0,784.1 L193.5,783.8 L195.0,783.5 L196.5,783.2 L197.9,782.9 L199.4,782.6 L200.9,782.2 L202.4,781.9 L203.9,781.5 L205.4,781.1 L206.8,780.7 L208.3,780.3 L209.8,779.9 L211.3,779.5 L212.8,779.0 L214.2,778.5 L215.7,778.1 L217.2,777.6 L218.7,777.1 L220.2,776.5 L221.7,776.0 L223.1,775.5 L224.6,774.9 L226.1,774.3 L227.6,773.7 L229.1,773.1 L230.5,772.5 L232.0,771.8 L233.5,771.1 L235.0,770.5 L236.5,769.8 L238.0,769.1 L239.4,768.3 L240.9,767.6 L242.4,766.8 L243.9,766.0 L245.4,765.3 L246.8,764.4 L248.3,763.6 L249.8,762.8 L251.3,761.9 L252.8,761.1 L254.3,760.2 L255.7,759.3 L257.2,758.4 L258.7,757.4 L260.2,756.5 L261.7,755.5 L263.1,754.6 L264.6,753.6 L266.1,752.6 L267.6,751.6 L269.1,750.6 L270.6,749.5 L272.0,748.5 L273.5,747.4 L275.0,746.4 L276.5,745.3 L278.0,744.2 L279.4,743.1 L280.9,742.1 L282.4,741.0 L283.9,739.8 L285.4,738.7 L286.9,737.6 L288.3,736.5 L289.8,735.3 L291.3,734.2 L292.8,733.1 L294.3,731.9 L295.7,730.8 L297.2,729.6 L298.7,728.5 L300.2,727.3 L301.7,726.2 L303.2,725.0 L304.6,723.9 L306.1,722.7 L307.6,721.6 L309.1,720.4 L310.6,719.3 L312.1,718.2 L313.5,717.0 L315.0,715.9 L316.5,714.8 L318.0,713.6 L319.5,712.5 L320.9,711.4 L322.4,710.3 L323.9,709.2 L325.4,708.1 L326.9,707.0 L328.4,705.9 L329.8,704.9 L331.3,703.8 L332.8,702.7 L334.3,701.7 L335.8,700.7 L337.2,699.6 L338.7,698.6 L340.2,697.6 L341.7,696.6 L343.2,695.6 L344.7,694.6 L346.1,693.7 L347.6,692.7 L349.1,691.8 L350.6,690.8 L352.1,689.9 L353.5,689.0 L355.0,688.1 L356.5,687.2 L358.0,686.3 L359.5,685.5 L361.0,684.6 L362.4,683.8 L363.9,682.9 L365.4,682.1 L366.9,681.3 L368.4,680.5 L369.8,679.7 L371.3,679.0 L372.8,678.2 L374.3,677.4 L375.8,676.7 L377.3,676.0 L378.7,675.3 L380.2,674.6 L381.7,673.9 L383.2,673.2 L384.7,672.5 L386.1,671.9 L387.6,671.2 L389.1,670.6 L390.6,670.0 L392.1,669.4 L393.6,668.8 L395.0,668.2 L396.5,667.6 L398.0,667.0 L399.5,666.5 L401.0,665.9 L402.4,665.4 L403.9,664.9 L405.4,664.4 L406.9,663.9 L408.4,663.4 L409.9,662.9 L411.3,662.4 L412.8,661.9 L414.3,661.5 L415.8,661.0 L417.3,660.6 L418.8,660.1 L420.2,659.7 L421.7,659.3 L423.2,658.9 L424.7,658.5 L426.2,658.1 L427.6,657.7 L429.1,657.4 L430.6,657.0 L432.1,656.6 L433.6,656.3 L435.1,656.0 L436.5,655.6 L438.0,655.3 L439.5,655.0 L441.0,654.7 L442.5,654.4 L443.9,654.0 L445.4,653.8 L446.9,653.5 L448.4,653.2 L449.9,652.9 L451.4,652.6 L452.8,652.4 L454.3,652.1 L455.8,651.9 L457.3,651.6 L458.8,651.4 L460.2,651.2 L461.7,650.9 L463.2,650.7 L464.7,650.5 L466.2,650.3 L467.7,650.1 L469.1,649.9 L470.6,649.7 L472.1,649.5 L473.6,649.3 L475.1,649.1 L476.5,648.9 L478.0,648.7 L479.5,648.5 L481.0,648.4 L482.5,648.2 L484.0,648.0 L485.4,647.9 L486.9,647.7 L488.4,647.6 L489.9,647.4 L491.4,647.3 L492.8,647.2 L494.3,647.0 L495.8,646.9 L497.3,646.8 L498.8,646.6 L500.3,646.5 L501.7,646.4 L503.2,646.3 L504.7,646.1 L506.2,646.0 L507.7,645.9 L509.1,645.8 L510.6,645.7 L512.1,645.6 L513.6,645.5 L515.1,645.4 L516.6,645.3 L518.0,645.2 L519.5,645.1 L521.0,645.0 L522.5,644.9 L524.0,644.9 L525.5,644.8 L526.9,644.7 L528.4,644.6 L529.9,644.5 L531.4,644.5 L532.9,644.4 L534.3,644.3 L535.8,644.3 L537.3,644.2 L538.8,644.1 L540.3,644.1 L541.8,644.0 L543.2,643.9 L544.7,643.9 L546.2,643.8 L547.7,643.7 L549.2,643.7 L550.6,643.6 L552.1,643.6 L553.6,643.5 L555.1,643.5 L556.6,643.4 L558.1,643.4 L559.5,643.3 L561.0,643.3 L562.5,643.2 L564.0,643.2 L565.5,643.2 L566.9,643.1 L568.4,643.1 L569.9,643.0 L571.4,643.0 L572.9,643.0 L574.4,642.9 L575.8,642.9 L577.3,642.9 L578.8,642.8" fill="none" stroke="#000000" stroke-width="3.9"/>
<path d="M135.7,809.2 L137.2,809.1 L138.7,809.0 L140.1,808.9 L141.6,808.8 L143.1,808.7 L144.6,808.6 L146.1,808.5 L147.6,808.4 L149.0,808.3 L150.5,808.2 L152.0,808.0 L153.5,807.9 L155.0,807.8 L156.4,807.7 L157.9,807.5 L159.4,807.4 L160.9,807.3 L162.4,807.1 L163.9,807.0 L165.3,806.8 L166.8,806.7 L168.3,806.5 L169.8,806.4 L171.3,806.2 L172.7,806.1 L174.2,805.9 L175.7,805.7 L177.2,805.5 L178.7,805.4 L180.2,805.2 L181.6,805.0 L183.1,804.8 L184.6,804.6 L186.1,804.4 L187.6,804.2 L189.0,804.0 L190.5,803.8 L192.0,803.6 L193.5,803.4 L195.0,803.2 L196.5,803.0 L197.9,802.7 L199.4,802.5 L200.9,802.3 L202.4,802.0 L203.9,801.8 L205.4,801.5 L206.8,801.3 L208.3,801.0 L209.8,800.8 L211.3,800.5 L212.8,800.2 L214.2,800.0 L215.7,799.7 L217.2,799.4 L218.7,799.1 L220.2,798.8 L221.7,798.5 L223.1,798.2 L224.6,797.9 L226.1,797.6 L227.6,797.3 L229.1,797.0 L230.5,796.7 L232.0,796.3 L233.5,796.0 L235.0,795.7 L236.5,795.3 L238.0,795.0 L239.4,794.6 L240.9,794.3 L242.4,793.9 L243.9,793.6 L245.4,793.2 L246.8,792.8 L248.3,792.5 L249.8,792.1 L251.3,791.7 L252.8,791.3 L254.3,790.9 L255.7,790.5 L257.2,790.1 L258.7,789.7 L260.2,789.3 L261.7,788.9 L263.1,788.5 L264.6,788.0 L266.1,787.6 L267.6,787.2 L269.1,786.7 L270.6,786.3 L272.0,785.8 L273.5,785.4 L275.0,784.9 L276.5,784.5 L278.0,784.0 L279.4,783.5 L280.9,783.1 L282.4,782.6 L283.9,782.1 L285.4,781.6 L286.9,781.1 L288.3,780.6 L289.8,780.1 L291.3,779.6 L292.8,779.1 L294.3,778.6 L295.7,778.1 L297.2,777.6 L298.7,777.1 L300.2,776.5 L301.7,776.0 L303.2,775.5 L304.6,774.9 L306.1,774.4 L307.6,773.9 L309.1,773.3 L310.6,772.8 L312.1,772.2 L313.5,771.6 L315.0,771.1 L316.5,770.5 L318.0,770.0 L319.5,769.4 L320.9,768.8 L322.4,768.2 L323.9,767.7 L325.4,767.1 L326.9,766.5 L328.4,765.9 L329.8,765.3 L331.3,764.7 L332.8,764.1 L334.3,763.5 L335.8,762.9 L337.2,762.3 L338.7,761.7 L340.2,761.1 L341.7,760.5 L343.2,759.9 L344.7,759.3 L346.1,758.6 L347.6,758.0 L349.1,757.4 L350.6,756.8 L352.1,756.2 L353.5,755.5 L355.0,754.9 L356.5,754.3 L358.0,753.6 L359.5,753.0 L361.0,752.4 L362.4,751.7 L363.9,751.1 L365.4,750.4 L366.9,749.8 L368.4,749.2 L369.8,748.5 L371.3,747.9 L372.8,747.2 L374.3,746.6 L375.8,745.9 L377.3,745.3 L378.7,744.6 L380.2,744.0 L381.7,743.3 L383.2,742.7 L384.7,742.0 L386.1,741.4 L387.6,740.7 L389.1,740.1 L390.6,739.4 L392.1,738.8 L393.6,738.1 L395.0,737.4 L396.5,736.8 L398.0,736.1 L399.5,735.5 L401.0,734.8 L402.4,734.2 L403.9,733.5 L405.4,732.9 L406.9,732.2 L408.4,731.5 L409.9,730.9 L411.3,730.2 L412.8,729.6 L414.3,728.9 L415.8,728.3 L417.3,727.6 L418.8,727.0 L420.2,726.3 L421.7,725.7 L423.2,725.0 L424.7,724.4 L426.2,723.7 L427.6,723.1 L429.1,722.4 L430.6,721.8 L432.1,721.2 L433.6,720.5 L435.1,719.9 L436.5,719.2 L438.0,718.6 L439.5,718.0 L441.0,717.3 L442.5,716.7 L443.9,716.0 L445.4,715.4 L446.9,714.8 L448.4,714.2 L449.9,713.5 L451.4,712.9 L452.8,712.3 L454.3,711.7 L455.8,711.0 L457.3,710.4 L458.8,709.8 L460.2,709.2 L461.7,708.6 L463.2,708.0 L464.7,707.3 L466.2,706.7 L467.7,706.1 L469.1,705.5 L470.6,704.9 L472.1,704.3 L473.6,703.7 L475.1,703.1 L476.5,702.5 L478.0,701.9 L479.5,701.4 L481.0,700.8 L482.5,700.2 L484.0,699.6 L485.4,699.0 L486.9,698.4 L488.4,697.9 L489.9,697.3 L491.4,696.7 L492.8,696.1 L494.3,695.6 L495.8,695.0 L497.3,694.5 L498.8,693.9 L500.3,693.3 L501.7,692.8 L503.2,692.2 L504.7,691.7 L506.2,691.1 L507.7,690.6 L509.1,690.0 L510.6,689.5 L512.1,689.0 L513.6,688.4 L515.1,687.9 L516.6,687.4 L518.0,686.8 L519.5,686.3 L521.0,685.8 L522.5,685.3 L524.0,684.8 L525.5,684.2 L526.9,683.7 L528.4,683.2 L529.9,682.7 L531.4,682.2 L532.9,681.7 L534.3,681.2 L535.8,680.7 L537.3,680.2 L538.8,679.7 L540.3,679.3 L541.8,678.8 L543.2,678.3 L544.7,677.8 L546.2,677.3 L547.7,676.9 L549.2,676.4 L550.6,675.9 L552.1,675.5 L553.6,675.0 L555.1,674.5 L556.6,674.1 L558.1,673.6 L559.5,673.2 L561.0,672.7 L562.5,672.3 L564.0,671.8 L565.5,671.4 L566.9,670.9 L568.4,670.5 L569.9,670.1 L571.4,669.7 L572.9,669.2 L574.4,668.8 L575.8,668.4 L577.3,668.0 L578.8,667.5" fill="none" stroke="#00ff00" stroke-width="3.9"/>
<path d="M135.7,811.1 L137.2,811.0 L138.7,810.9 L140.1,810.8 L141.6,810.7 L143.1,810.6 L144.6,810.5 L146.1,810.4 L147.6,810.3 L149.0,810.2 L150.5,810.1 L152.0,810.0 L153.5,809.9 L155.0,809.8 L156.4,809.7 L157.9,809.6 L159.4,809.4 L160.9,809.3 L162.4,809.2 L163.9,809.1 L165.3,809.0 L166.8,808.9 L168.3,808.8 L169.8,808.7 L171.3,808.5 L172.7,808.4 L174.2,808.3 L175.7,808.2 L177.2,808.1 L178.7,807.9 L180.2,807.8 L181.6,807.7 L183.1,807.6 L184.6,807.4 L186.1,807.3 L187.6,807.2 L189.0,807.0 L190.5,806.9 L192.0,806.8 L193.5,806.6 L195.0,806.5 L196.5,806.4 L197.9,806.2 L199.4,806.1 L200.9,806.0 L202.4,805.8 L203.9,805.7 L205.4,805.5 L206.8,805.4 L208.3,805.2 L209.8,805.1 L211.3,804.9 L212.8,804.8 L214.2,804.6 L215.7,804.5 L217.2,804.3 L218.7,804.2 L220.2,804.0 L221.7,803.9 L223.1,803.7 L224.6,803.5 L226.1,803.4 L227.6,803.2 L229.1,803.1 L230.5,802.9 L232.0,802.7 L233.5,802.5 L235.0,802.4 L236.5,802.2 L238.0,802.0 L239.4,801.9 L240.9,801.7 L242.4,801.5 L243.9,801.3 L245.4,801.1 L246.8,801.0 L248.3,800.8 L249.8,800.6 L251.3,800.4 L252.8,800.2 L254.3,800.0 L255.7,799.8 L257.2,799.6 L258.7,799.4 L260.2,799.2 L261.7,799.0 L263.1,798.8 L264.6,798.6 L266.1,798.4 L267.6,798.2 L269.1,798.0 L270.6,797.8 L272.0,797.6 L273.5,797.4 L275.0,797.2 L276.5,797.0 L278.0,796.7 L279.4,796.5 L280.9,796.3 L282.4,796.1 L283.9,795.9 L285.4,795.6 L286.9,795.4 L288.3,795.2 L289.8,794.9 L291.3,794.7 L292.8,794.5 L294.3,794.2 L295.7,794.0 L297.2,793.7 L298.7,793.5 L300.2,793.2 L301.7,793.0 L303.2,792.8 L304.6,792.5 L306.1,792.2 L307.6,792.0 L309.1,791.7 L310.6,791.5 L312.1,791.2 L313.5,790.9 L315.0,790.7 L316.5,790.4 L318.0,790.1 L319.5,789.9 L320.9,789.6 L322.4,789.3 L323.9,789.0 L325.4,788.7 L326.9,788.5 L328.4,788.2 L329.8,787.9 L331.3,787.6 L332.8,787.3 L334.3,787.0 L335.8,786.7 L337.2,786.4 L338.7,786.1 L340.2,785.8 L341.7,785.5 L343.2,785.2 L344.7,784.9 L346.1,784.6 L347.6,784.2 L349.1,783.9 L350.6,783.6 L352.1,783.3 L353.5,783.0 L355.0,782.6 L356.5,782.3 L358.0,782.0 L359.5,781.6 L361.0,781.3 L362.4,780.9 L363.9,780.6 L365.4,780.3 L366.9,779.9 L368.4,779.6 L369.8,779.2 L371.3,778.8 L372.8,778.5 L374.3,778.1 L375.8,777.8 L377.3,777.4 L378.7,777.0 L380.2,776.6 L381.7,776.3 L383.2,775.9 L384.7,775.5 L386.1,775.1 L387.6,774.7 L389.1,774.4 L390.6,774.0 L392.1,773.6 L393.6,773.2 L395.0,772.8 L396.5,772.4 L398.0,772.0 L399.5,771.6 L401.0,771.1 L402.4,770.7 L403.9,770.3 L405.4,769.9 L406.9,769.5 L408.4,769.0 L409.9,768.6 L411.3,768.2 L412.8,767.7 L414.3,767.3 L415.8,766.9 L417.3,766.4 L418.8,766.0 L420.2,765.5 L421.7,765.1 L423.2,764.6 L424.7,764.2 L426.2,763.7 L427.6,763.2 L429.1,762.8 L430.6,762.3 L432.1,761.8 L433.6,761.3 L435.1,760.9 L436.5,760.4 L438.0,759.9 L439.5,759.4 L441.0,758.9 L442.5,758.4 L443.9,757.9 L445.4,757.4 L446.9,756.9 L448.4,756.4 L449.9,755.9 L451.4,755.4 L452.8,754.9 L454.3,754.3 L455.8,753.8 L457.3,753.3 L458.8,752.8 L460.2,752.2 L461.7,751.7 L463.2,751.2 L464.7,750.6 L466.2,750.1 L467.7,749.5 L469.1,749.0 L470.6,748.4 L472.1,747.8 L473.6,747.3 L475.1,746.7 L476.5,746.1 L478.0,745.6 L479.5,745.0 L481.0,744.4 L482.5,743.8 L484.0,743.3 L485.4,742.7 L486.9,742.1 L488.4,741.5 L489.9,740.9 L491.4,740.3 L492.8,739.7 L494.3,739.1 L495.8,738.5 L497.3,737.9 L498.8,737.2 L500.3,736.6 L501.7,736.0 L503.2,735.4 L504.7,734.7 L506.2,734.1 L507.7,733.5 L509.1,732.8 L510.6,732.2 L512.1,731.5 L513.6,730.9 L515.1,730.2 L516.6,729.6 L518.0,728.9 L519.5,728.3 L521.0,727.6 L522.5,726.9 L524.0,726.3 L525.5,725.6 L526.9,724.9 L528.4,724.2 L529.9,723.5 L531.4,722.9 L532.9,722.2 L534.3,721.5 L535.8,720.8 L537.3,720.1 L538.8,719.4 L540.3,718.7 L541.8,718.0 L543.2,717.3 L544.7,716.5 L546.2,715.8 L547.7,715.1 L549.2,714.4 L550.6,713.7 L552.1,712.9 L553.6,712.2 L555.1,711.5 L556.6,710.7 L558.1,710.0 L559.5,709.3 L561.0,708.5 L562.5,707.8 L564.0,707.0 L565.5,706.3 L566.9,705.5 L568.4,704.7 L569.9,704.0 L571.4,703.2 L572.9,702.4 L574.4,701.7 L575.8,700.9 L577.3,700.1 L578.8,699.4" fill="none" stroke="#ff0000" stroke-width="3.9"/>
<path d="M133.4,789.6 H147.8 M140.6,789.6 V797.3 M133.4,797.3 H147.8" stroke="#000000" stroke-width="2" fill="none"/>
<circle cx="135.4" cy="793.7" r="2.4" fill="#000000"/>
<path d="M182.7,776 H197.1 M189.9,776 V780.8 M182.7,780.8 H197.1" stroke="#000000" stroke-width="2" fill="none"/>
<circle cx="184.7" cy="778.4" r="2.4" fill="#000000"/>
<path d="M232.0,765.9 H246.4 M239.2,765.9 V776 M232.0,776 H246.4" stroke="#000000" stroke-width="2" fill="none"/>
<circle cx="234.0" cy="771" r="2.4" fill="#000000"/>
<path d="M281.2,741.9 H295.6 M288.4,741.9 V749.1 M281.2,749.1 H295.6" stroke="#000000" stroke-width="2" fill="none"/>
<circle cx="283.2" cy="745.6" r="2.4" fill="#000000"/>
<path d="M330.5,682.6 H344.9 M337.7,682.6 V707.3 M330.5,707.3 H344.9" stroke="#000000" stroke-width="2" fill="none"/>
<circle cx="332.5" cy="695" r="2.4" fill="#000000"/>
<path d="M379.8,653.8 H394.2 M387.0,653.8 V690.5 M379.8,690.5 H394.2" stroke="#000000" stroke-width="2" fill="none"/>
<circle cx="381.8" cy="671.6" r="2.4" fill="#000000"/>
<path d="M429.0,644.9 H443.4 M436.2,644.9 V687.7 M429.0,687.7 H443.4" stroke="#000000" stroke-width="2" fill="none"/>
<circle cx="431.0" cy="666.1" r="2.4" fill="#000000"/>
<path d="M478.3,607.7 H492.7 M485.5,607.7 V676.3 M478.3,676.3 H492.7" stroke="#000000" stroke-width="2" fill="none"/>
<circle cx="480.3" cy="642" r="2.4" fill="#000000"/>
<path d="M527.6,607 H542.0 M534.8,607 V679.9 M527.6,679.9 H542.0" stroke="#000000" stroke-width="2" fill="none"/>
<circle cx="529.6" cy="643.2" r="2.4" fill="#000000"/>
<path d="M128.2,805.2 H142.6 M135.4,805.2 V808.9 M128.2,808.9 H142.6" stroke="#00ff00" stroke-width="2" fill="none"/>
<circle cx="135.4" cy="807" r="2.4" fill="#00ff00"/>
<path d="M177.5,806 H191.9 M184.7,806 V811.3 M177.5,811.3 H191.9" stroke="#00ff00" stroke-width="2" fill="none"/>
<circle cx="184.7" cy="808.6" r="2.4" fill="#00ff00"/>
<path d="M226.8,799.6 H241.2 M234.0,799.6 V804 M226.8,804 H241.2" stroke="#00ff00" stroke-width="2" fill="none"/>
<circle cx="234.0" cy="801.8" r="2.4" fill="#00ff00"/>
<path d="M276.0,771.3 H290.4 M283.2,771.3 V781 M276.0,781 H290.4" stroke="#00ff00" stroke-width="2" fill="none"/>
<circle cx="283.2" cy="775.9" r="2.4" fill="#00ff00"/>
<path d="M325.3,757.7 H339.7 M332.5,757.7 V772.8 M325.3,772.8 H339.7" stroke="#00ff00" stroke-width="2" fill="none"/>
<circle cx="332.5" cy="765.2" r="2.4" fill="#00ff00"/>
<path d="M374.6,740.9 H389.0 M381.8,740.9 V756 M374.6,756 H389.0" stroke="#00ff00" stroke-width="2" fill="none"/>
<circle cx="381.8" cy="747.2" r="2.4" fill="#00ff00"/>
<path d="M423.8,700 H438.2 M431.0,700 V731.9 M423.8,731.9 H438.2" stroke="#00ff00" stroke-width="2" fill="none"/>
<circle cx="431.0" cy="716.5" r="2.4" fill="#00ff00"/>
<path d="M473.1,686.9 H487.5 M480.3,686.9 V724.8 M473.1,724.8 H487.5" stroke="#00ff00" stroke-width="2" fill="none"/>
<circle cx="480.3" cy="705.9" r="2.4" fill="#00ff00"/>
<path d="M522.4,651 H536.8 M529.6,651 V711.8 M522.4,711.8 H536.8" stroke="#00ff00" stroke-width="2" fill="none"/>
<circle cx="529.6" cy="681" r="2.4" fill="#00ff00"/>
<path d="M123.5,805.8 H137.9 M130.7,805.8 V811 M123.5,811 H137.9" stroke="#ff0000" stroke-width="2" fill="none"/>
<circle cx="135.4" cy="808.4" r="2.4" fill="#ff0000"/>
<path d="M172.8,816 H187.2 M180.0,816 V818.5 M172.8,818.5 H187.2" stroke="#ff0000" stroke-width="2" fill="none"/>
<circle cx="184.7" cy="817.2" r="2.4" fill="#ff0000"/>
<path d="M222.1,803.6 H236.5 M229.3,803.6 V807.7 M222.1,807.7 H236.5" stroke="#ff0000" stroke-width="2" fill="none"/>
<circle cx="234.0" cy="805.6" r="2.4" fill="#ff0000"/>
<path d="M271.3,782.4 H285.7 M278.5,782.4 V787.6 M271.3,787.6 H285.7" stroke="#ff0000" stroke-width="2" fill="none"/>
<circle cx="283.2" cy="785" r="2.4" fill="#ff0000"/>
<path d="M320.6,781.6 H335.0 M327.8,781.6 V787.2 M320.6,787.2 H335.0" stroke="#ff0000" stroke-width="2" fill="none"/>
<circle cx="332.5" cy="784.4" r="2.4" fill="#ff0000"/>
<path d="M369.9,782 H384.3 M377.1,782 V788.2 M369.9,788.2 H384.3" stroke="#ff0000" stroke-width="2" fill="none"/>
<circle cx="381.8" cy="785" r="2.4" fill="#ff0000"/>
<path d="M419.1,752 H433.5 M426.3,752 V760.7 M419.1,760.7 H433.5" stroke="#ff0000" stroke-width="2" fill="none"/>
<circle cx="431.0" cy="756.2" r="2.4" fill="#ff0000"/>
<path d="M468.4,748.9 H482.8 M475.6,748.9 V758.4 M468.4,758.4 H482.8" stroke="#ff0000" stroke-width="2" fill="none"/>
<circle cx="480.3" cy="753.2" r="2.4" fill="#ff0000"/>
<path d="M517.7,700.7 H532.1 M524.9,700.7 V737.8 M517.7,737.8 H532.1" stroke="#ff0000" stroke-width="2" fill="none"/>
<circle cx="529.6" cy="718.9" r="2.4" fill="#ff0000"/>
<text transform="translate(128.4,852.1) scale(1,1.06)" text-anchor="middle" class="t">20</text>
<text transform="translate(269.2,852.1) scale(1,1.06)" text-anchor="middle" class="t">40</text>
<text transform="translate(409.9,852.1) scale(1,1.06)" text-anchor="middle" class="t">60</text>
<text transform="translate(550.7,852.1) scale(1,1.06)" text-anchor="middle" class="t">80</text>
<text transform="translate(348.5,882) scale(1,1.04)" text-anchor="middle" class="x">Days after transplanting</text>
<text transform="translate(16.6,138.8) rotate(-90)" text-anchor="middle" class="l">Leaves per plant</text>
<text transform="translate(16.6,420.7) rotate(-90)" text-anchor="middle" class="l">Plant height (cm)</text>
<text transform="translate(16.6,709.3) rotate(-90)" text-anchor="middle" class="l">Growth index (cm3)</text>
<text transform="translate(2.5,17.5) scale(1,1.075)" class="p" style="font-size:21.6px">A</text>
<text transform="translate(1.2,299) scale(1,1.075)" class="p" style="font-size:21.6px">B</text>
<text transform="translate(1.0,581.6) scale(1,1.06)" class="p">C</text>
<line x1="147" y1="31" x2="243" y2="31" stroke="#ff0000" stroke-width="3.8"/>
<circle cx="195" cy="31" r="2.2" fill="#ff0000"/>
<text transform="translate(252.3,38.14) scale(1,1.05)" class="g">50% Field Capacity (FC)</text>
<line x1="147" y1="48.5" x2="243" y2="48.5" stroke="#00ff00" stroke-width="3.8"/>
<circle cx="195" cy="48.5" r="2.2" fill="#00ff00"/>
<text transform="translate(252.3,55.64) scale(1,1.05)" class="g">75% FC</text>
<line x1="147" y1="65.8" x2="243" y2="65.8" stroke="#000000" stroke-width="3.8"/>
<circle cx="195" cy="65.8" r="2.2" fill="#000000"/>
<text transform="translate(252.3,72.94) scale(1,1.05)" class="g">100% FC</text>
</svg>
</body></html>
